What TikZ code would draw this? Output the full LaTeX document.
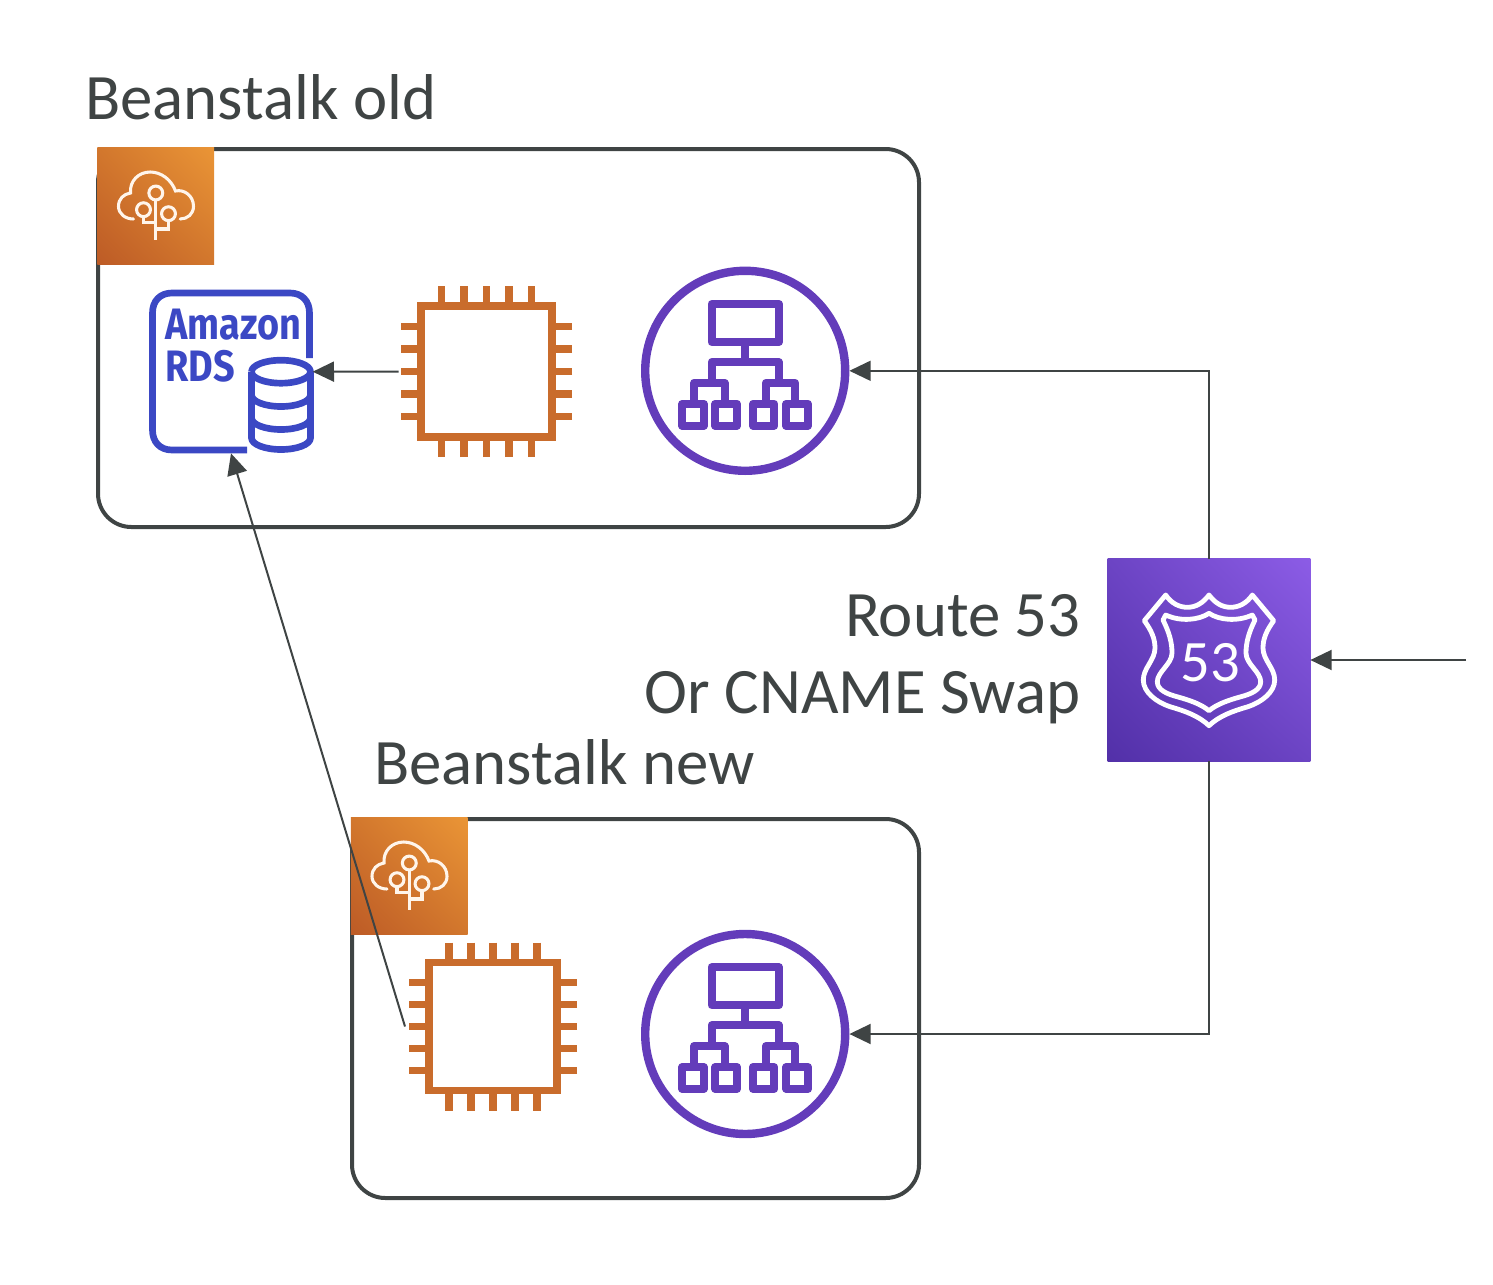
\documentclass[tikz,border=0pt]{standalone}
\usepackage{fontspec}
\setmainfont{Carlito}
\newfontfamily\rdsfont{Fira Sans}
\usetikzlibrary{arrows.meta,shadings}
\definecolor{inkgrey}{HTML}{3F4444}
\definecolor{orangeline}{HTML}{C96C2C}
\definecolor{albpurple}{HTML}{633CBA}
\definecolor{rdsblue}{HTML}{3B48C4}
\definecolor{orlow}{HTML}{BD5B26}
\definecolor{ormid}{HTML}{D2772D}
\definecolor{orhigh}{HTML}{EA9536}
\definecolor{pulow}{HTML}{5230A8}
\definecolor{pumid}{HTML}{6C44C4}
\definecolor{puhigh}{HTML}{8C5CE6}
\tikzset{
  x=0.75pt,y=-0.75pt,
  groupbox/.style={draw=inkgrey,line width=3pt,rounded corners=25pt},
  conn/.style={draw=inkgrey,line width=1.5pt,-{Triangle[length=16pt,width=15pt]}},
  bigtext/.style={text=inkgrey,font=\fontsize{48.6}{48.6}\selectfont,inner sep=0pt},
  orangesq/.style={inner sep=0pt,minimum size=87.5pt,outer sep=0pt,lower left=orlow,upper right=orhigh,upper left=ormid,lower right=ormid,shade},
  iconwhite/.style={draw=white!92!orange,line width=2.3pt},
  chipline/.style={draw=orangeline,line width=5.6pt},
  chipbound/.style={inner sep=0pt,outer sep=0pt,minimum size=132pt},
  albcircle/.style={circle,draw=albpurple,line width=6.3pt,inner sep=0pt,minimum size=150pt,fill=white},
  albline/.style={draw=albpurple,line width=6pt,line join=round},
  rdsline/.style={draw=rdsblue,line width=5pt,line join=round},
  shieldline/.style={draw=white,line width=3.6pt,line join=round},
  rdstext/.style={text=rdsblue,inner sep=0pt,font=\rdsfont\bfseries\fontsize{33}{33}\selectfont,xscale=0.86,transform shape,anchor=base west},
}
\newcommand{\chipicon}[6]{%
  \node[chipbound] (#1) at (#2,#3) {};
  \begin{scope}[shift={(#2,#3)}]
    \foreach \k in {-2,...,2}{
      \draw[chipline] (\k*#6,-#5) -- (\k*#6,-#4);
      \draw[chipline] (\k*#6,#5) -- (\k*#6,#4);
      \draw[chipline] (-#5,\k*#6) -- (-#4,\k*#6);
      \draw[chipline] (#5,\k*#6) -- (#4,\k*#6);
    }
    \draw[chipline] (-#4,-#4) rectangle (#4,#4);
  \end{scope}}
\newcommand{\albicon}[3]{%
  \node[albcircle] (#1) at (#2,#3) {};
  \begin{scope}[shift={(#2,#3)}]
    \draw[albline] (-33.7,-66.8) rectangle (33.8,-28.8);
    \draw[albline] (0,-28.8) -- (0,-8.8);
    \draw[albline] (-33.5,12) -- (-33.5,-8.8) -- (33.5,-8.8) -- (33.5,12);
    \draw[albline] (-33.5,12) -- (-51,12) -- (-51,33);
    \draw[albline] (-33.5,12) -- (-20.7,12) -- (-20.7,33);
    \draw[albline] (33.5,12) -- (20.7,12) -- (20.7,33);
    \draw[albline] (33.5,12) -- (50,12) -- (50,33);
    \draw[albline] (-62.9,33) rectangle (-41.5,54.9);
    \draw[albline] (-29.9,33) rectangle (-8.2,54.9);
    \draw[albline] (7.8,33) rectangle (29.1,54.9);
    \draw[albline] (41.1,33) rectangle (62.8,54.9);
  \end{scope}}
\newcommand{\beanicon}[3]{%
  \node[orangesq] (#1) at (#2+58.3,#3+58.3) {};
  \begin{scope}[shift={(#2,#3)}]
    \draw[iconwhite,line cap=round] (82.7,71) .. controls (90,71) and (96,66) .. (96,58.3)
      .. controls (96,48) and (87,41) .. (78,43)
      .. controls (74,32) and (64,24) .. (52.7,24)
      .. controls (41,24) and (32,33) .. (33,45)
      .. controls (26,46) and (21,51) .. (21,58.3)
      .. controls (21,66) and (28,71) .. (36,71);
    \draw[iconwhite] (58.3,45) circle[radius=5.2pt];
    \draw[iconwhite] (46,61.7) circle[radius=5.2pt];
    \draw[iconwhite] (71,65.7) circle[radius=5.2pt];
    \draw[iconwhite] (58.3,52) -- (58.3,91.7);
    \draw[iconwhite] (46,68.7) -- (46,74.5) -- (58.3,74.5);
    \draw[iconwhite] (71,72.7) -- (71,81) -- (58.3,81);
  \end{scope}}
\begin{document}
\begin{tikzpicture}
\useasboundingbox (0,0) rectangle (1493,1285);
% containers
\draw[groupbox] (98,149) rectangle (919,527);
\draw[groupbox] (352,819) rectangle (919,1198);
% titles
\node[bigtext,anchor=base west] (titleold) at (85,119.5) {Beanstalk old};
\node[bigtext,anchor=base west] (titlenew) at (374,784) {Beanstalk new};
\node[bigtext,anchor=base east] (route) at (1081,636.5) {Route 53};
\node[bigtext,anchor=base east] (swap) at (1080.5,713.5) {Or CNAME Swap};
% beanstalk icons
\beanicon{beanold}{97.5}{148}
\beanicon{beannew}{351}{818}
% RDS
\node[inner sep=0pt,outer sep=0pt,minimum size=122.5pt] (rds) at (231,371.7) {};
\draw[rdsline] (309.5,358) -- (309.5,313) .. controls (309.5,301) and (302,293) .. (290,293)
  -- (172,293) .. controls (160,293) and (152.5,301) .. (152.5,313)
  -- (152.5,430) .. controls (152.5,442) and (160,450) .. (172,450) -- (247,450);
\node[rdstext] (rdsa) at (165,339) {Amazon};
\node[rdstext] (rdsb) at (165,381) {RDS};
\draw[rdsline,fill=white] (251.5,371.7) arc[start angle=180,end angle=540,x radius=29.5,y radius=11.5];
\draw[rdsline] (251.5,371.7) -- (251.5,438) arc[start angle=180,end angle=360,x radius=29.5,y radius=-11.5] -- (310.5,371.7);
\draw[rdsline] (251.5,395) arc[start angle=180,end angle=360,x radius=29.5,y radius=-11.5];
\draw[rdsline] (251.5,418) arc[start angle=180,end angle=360,x radius=29.5,y radius=-11.5];
% chips
\chipicon{chipold}{486.5}{371.5}{65.5}{85.5}{22.4}
\chipicon{chipnew}{493}{1026.5}{64}{84}{22}
% load balancers
\albicon{albold}{745.2}{370.8}
\albicon{albnew}{745.2}{1034}
% Route 53
\node[inner sep=0pt,outer sep=0pt,minimum size=152pt,lower left=pulow,upper right=puhigh,upper left=pumid,lower right=pumid,shade] (r53) at (1209,660) {};
\begin{scope}[shift={(1209,0)}]
  \draw[shieldline] (0,595) .. controls (-6,603) and (-13,607.3) .. (-21.7,607.3)
    .. controls (-30,607.3) and (-38,603) .. (-43.3,595) -- (-64.7,620.7)
    .. controls (-58,630) and (-54,638) .. (-54,648)
    .. controls (-54,660) and (-65.7,668) .. (-65.7,680)
    .. controls (-65.7,692) and (-53,702) .. (-39,706.7)
    .. controls (-24,711) and (-10,716) .. (0,725.7)
    .. controls (10,716) and (24,711) .. (39,706.7)
    .. controls (53,702) and (65.7,692) .. (65.7,680)
    .. controls (65.7,668) and (54,660) .. (54,648)
    .. controls (54,638) and (58,630) .. (64.7,620.7) -- (43.3,595)
    .. controls (38,603) and (30,607.3) .. (21.7,607.3)
    .. controls (13,607.3) and (6,603) .. (0,595) -- cycle;
  \draw[shieldline] (0,613.3) .. controls (-10,620) and (-28,622) .. (-43.3,615) -- (-46,620)
    .. controls (-40,632) and (-37,642) .. (-37,653)
    .. controls (-37,664) and (-51.7,672) .. (-51.7,681.7)
    .. controls (-51.7,690) and (-42,694) .. (-32,696.7)
    .. controls (-20,700) and (-8,704) .. (0,710.7)
    .. controls (8,704) and (20,700) .. (32,696.7)
    .. controls (42,694) and (51.7,690) .. (51.7,681.7)
    .. controls (51.7,672) and (37,664) .. (37,653)
    .. controls (37,642) and (40,632) .. (46,620) -- (43.3,615)
    .. controls (28,622) and (10,620) .. (0,613.3) -- cycle;
\end{scope}
\node[text=white,inner sep=0pt,font=\fontsize{44}{44}\selectfont] (r53label) at (1210,663) {53};
% connectors
\coordinate (client) at (1466,660);
\draw[conn] (chipold.west) -- (rds.east);
\draw[conn] (chipnew.west) -- (rds.south);
\draw[conn] (r53.north) |- (albold.east);
\draw[conn] (r53.south) |- (albnew.east);
\draw[conn] (client) -- (r53.east);
\end{tikzpicture}
\end{document}
